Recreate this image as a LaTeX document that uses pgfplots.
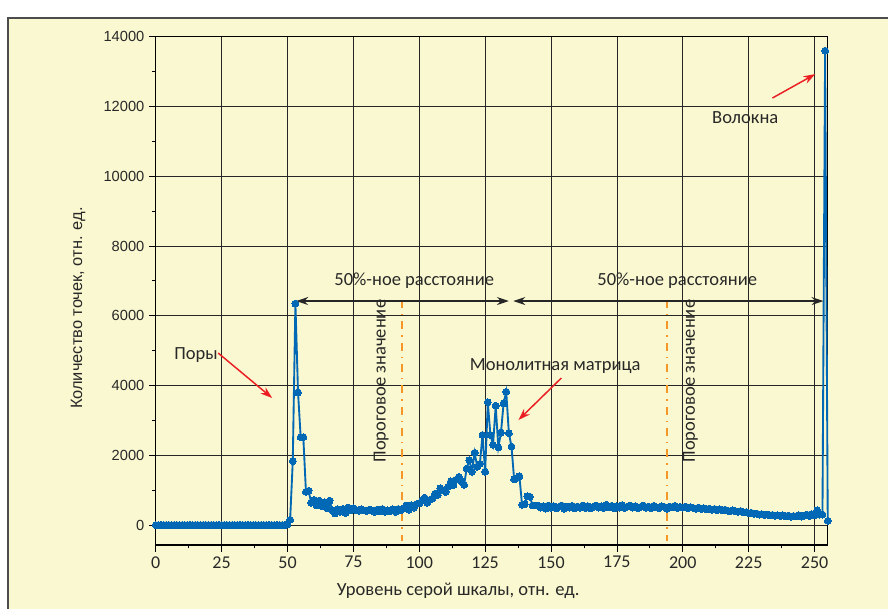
\documentclass[border=0pt]{standalone}
\usepackage{fontspec}
\setmainfont{Carlito}
\newfontfamily\arialf{Liberation Sans}
\usepackage{pgfplots}
\usepackage{pgfplotstable}
\pgfplotsset{compat=1.18}
\usetikzlibrary{arrows.meta}
\definecolor{bgy}{RGB}{250,248,208}
\definecolor{bluep}{RGB}{0,104,180}
\definecolor{txt}{RGB}{40,40,40}
\definecolor{orng}{RGB}{245,150,40}
\definecolor{redar}{RGB}{235,30,35}
\pgfplotstableread{
x y
0 0
1 0
2 0
3 0
4 0
5 0
6 0
7 0
8 0
9 0
10 0
11 0
12 0
13 0
14 0
15 0
16 0
17 0
18 0
19 0
20 0
21 0
22 0
23 0
24 0
25 0
26 0
27 0
28 0
29 0
30 0
31 0
32 0
33 0
34 0
35 0
36 0
37 0
38 0
39 0
40 0
41 0
42 0
43 0
44 0
45 0
46 0
47 0
48 0
49 0
50 20
51 150
52 1830
53 6350
54 3800
55 2520
56 2520
57 950
58 980
59 640
60 720
61 560
62 700
63 540
64 650
65 480
66 700
67 420
68 330
69 450
70 380
71 460
72 350
73 500
74 420
75 480
76 430
77 410
78 450
79 420
80 400
81 440
82 420
83 380
84 440
85 400
86 460
87 380
88 420
89 400
90 450
91 380
92 460
93 420
94 480
95 560
96 440
97 570
98 500
99 600
100 620
101 700
102 780
103 640
104 720
105 760
106 900
107 860
108 1050
109 1000
110 950
111 1100
112 1250
113 1150
114 1300
115 1380
116 1250
117 1150
118 1620
119 1860
120 1530
121 2070
122 1670
123 1750
124 2580
125 1530
126 3520
127 2580
128 2300
129 3420
130 2230
131 2650
132 3490
133 3820
134 2630
135 2250
136 1310
137 1350
138 1400
139 580
140 600
141 820
142 810
143 560
144 560
145 560
146 500
147 540
148 470
149 560
150 500
151 540
152 480
153 520
154 560
155 470
156 530
157 500
158 550
159 480
160 530
161 500
162 560
163 490
164 540
165 480
166 520
167 560
168 500
169 540
170 490
171 580
172 510
173 550
174 480
175 540
176 500
177 570
178 490
179 530
180 560
181 500
182 540
183 480
184 520
185 560
186 500
187 530
188 480
189 550
190 510
191 480
192 540
193 520
194 470
195 530
196 510
197 550
198 490
199 520
200 500
201 530
202 480
203 510
204 490
205 470
206 500
207 460
208 480
209 450
210 470
211 440
212 460
213 430
214 450
215 420
216 440
217 410
218 400
219 420
220 390
221 380
222 400
223 360
224 370
225 340
226 350
227 320
228 330
229 300
230 310
231 290
232 300
233 280
234 290
235 270
236 280
237 260
238 280
239 250
240 270
241 240
242 260
243 250
244 280
245 240
246 270
247 300
248 260
249 310
250 280
251 420
252 300
253 300
254 13600
255 120
}\datatab
\begin{document}
\begin{tikzpicture}[x=1pt,y=1pt]
\useasboundingbox (0,0) rectangle (666,456);
\fill[white] (0,0) rectangle (666,456);
\filldraw[fill=bgy, draw=black!70, line width=1.1pt] (6,-20) rectangle (700,442.5);
\begin{axis}[
  at={(116.8pt,47.25pt)}, anchor=south west,
  scale only axis, width=504pt, height=381.2pt,
  xmin=0, xmax=255, ymin=-573, ymax=14000,
  xtick={0,25,...,250}, ytick={0,2000,...,14000},
  scaled y ticks=false,
  minor x tick num=1, minor y tick num=1,
  grid=major, major grid style={black!85, line width=0.6pt},
  axis line style={black, line width=0.8pt},
  tick pos=left, tick align=outside,
  major tick length=5pt, minor tick length=2.5pt,
  every tick/.style={black, line width=0.6pt},
  xticklabel style={font=\fontsize{13.5}{14}\selectfont, text=txt},
  yticklabel style={font=\arialf\fontsize{11}{12}\selectfont, text=txt},
  /pgf/number format/1000 sep={},
  /pgf/number format/assume math mode=true,
  xlabel={Уровень серой шкалы, отн. ед.},
  ylabel={Количество точек, отн. ед.},
  xlabel style={font=\fontsize{13.9}{15}\selectfont, text=txt, at={(axis description cs:0.45,-0.0905)}, anchor=center},
  ylabel style={font=\arialf\fontsize{12.3}{13}\selectfont, text=txt, at={(axis description cs:-0.1156,0.466)}, anchor=center},
  clip=false,
]
\addplot[bluep, line width=1.4pt, mark=*, mark size=2.6pt, mark options={fill=bluep, draw=bluep, line width=0pt}] table[x=x,y=y] {\datatab};
% orange threshold lines
\draw[orng, line width=1.2pt, dash pattern=on 6pt off 4.5pt on 1pt off 4.5pt] (axis cs:93.5,6450) -- (axis cs:93.5,-450);
\draw[orng, line width=1.2pt, dash pattern=on 6pt off 4.5pt on 1pt off 4.5pt] (axis cs:194,6450) -- (axis cs:194,-450);
% double arrows
\draw[black!85, line width=1pt, {Stealth[length=9pt,width=6pt]}-{Stealth[length=9pt,width=6pt]}] (axis cs:53.3,6422) -- (axis cs:134,6422);
\draw[black!85, line width=1pt, {Stealth[length=9pt,width=6pt]}-{Stealth[length=9pt,width=6pt]}] (axis cs:135.7,6422) -- (axis cs:253.4,6422);
\node[font=\fontsize{13.9}{15}\selectfont, text=txt] at (axis cs:98.1,6995) {50\%-ное расстояние};
\node[font=\fontsize{13.9}{15}\selectfont, text=txt] at (axis cs:197.9,6995) {50\%-ное расстояние};
\node[rotate=90, font=\fontsize{13.9}{15}\selectfont, text=txt] at (axis cs:85.5,4128) {Пороговое значение};
\node[rotate=90, font=\fontsize{13.9}{15}\selectfont, text=txt] at (axis cs:202.9,4128) {Пороговое значение};
\node[font=\fontsize{13.9}{15}\selectfont, text=txt] at (axis cs:15.3,4874) {Поры};
\node[font=\fontsize{13.9}{15}\selectfont, text=txt] at (axis cs:151.6,4558) {Монолитная матрица};
\node[font=\fontsize{13.9}{15}\selectfont, text=txt] at (axis cs:223.7,11669) {Волокна};
% red arrows
\draw[redar, line width=1.1pt, -{Stealth[length=9pt,width=6pt]}] (axis cs:23.7,4931) -- (axis cs:44.2,3641);
\draw[redar, line width=1.1pt, -{Stealth[length=9pt,width=6pt]}] (axis cs:153.9,4214) -- (axis cs:137.6,3010);
\draw[redar, line width=1.1pt, -{Stealth[length=9pt,width=6pt]}] (axis cs:234,12242) -- (axis cs:250.3,12930);
\end{axis}
\end{tikzpicture}
\end{document}
